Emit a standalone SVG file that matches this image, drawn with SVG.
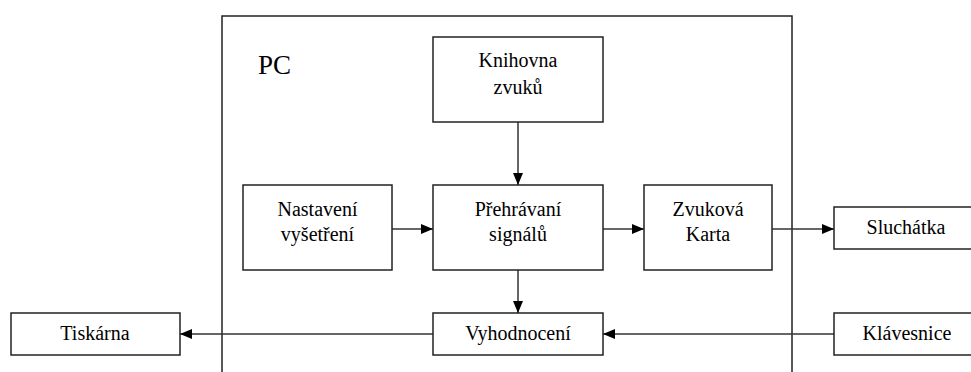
<svg xmlns="http://www.w3.org/2000/svg" width="971" height="372" viewBox="0 0 971 372">
<defs>
<marker id="ah" markerUnits="userSpaceOnUse" markerWidth="12" markerHeight="12" viewBox="0 0 12 12" refX="12" refY="6" orient="auto">
<path d="M0,1 L12,6 L0,11 Z" fill="#000"/>
</marker>
</defs>
<style>
.box{fill:#fff;stroke:#222;stroke-width:1.5}
.frame{fill:none;stroke:#222;stroke-width:1.5}
text{font-family:'Liberation Serif','DejaVu Serif',serif;fill:#000}
.t{font-size:20px;text-anchor:middle}
.c{fill:none;stroke:#333;stroke-width:1.5;marker-end:url(#ah)}
</style>
<rect width="971" height="372" fill="#fff"/>
<g id="pc">
<rect class="frame" x="222" y="16" width="570" height="370"/>
<text x="258" y="74" font-size="27">PC</text>
</g>
<g id="connectors">
<line class="c" x1="518" y1="122" x2="518" y2="185"/>
<line class="c" x1="392" y1="229" x2="433" y2="229"/>
<line class="c" x1="603" y1="229" x2="644" y2="229"/>
<line class="c" x1="772" y1="229" x2="834" y2="229"/>
<line class="c" x1="518" y1="270" x2="518" y2="313"/>
<line class="c" x1="834" y1="334" x2="603" y2="334"/>
<line class="c" x1="433" y1="334" x2="180" y2="334"/>
</g>
<g id="knihovna">
<rect class="box" x="433" y="37" width="170" height="85"/>
<text class="t" x="518" y="67">Knihovna</text>
<text class="t" x="518" y="94">zvuků</text>
</g>
<g id="nastaveni">
<rect class="box" x="243" y="185" width="149" height="85"/>
<text class="t" x="317.5" y="216">Nastavení</text>
<text class="t" x="317.5" y="241">vyšetření</text>
</g>
<g id="prehravani">
<rect class="box" x="433" y="185" width="170" height="85"/>
<text class="t" x="518" y="216">Přehrávaní</text>
<text class="t" x="518" y="241">signálů</text>
</g>
<g id="zvukova">
<rect class="box" x="644" y="185" width="128" height="85"/>
<text class="t" x="708" y="216">Zvuková</text>
<text class="t" x="708" y="241">Karta</text>
</g>
<g id="sluchatka">
<rect class="box" x="834" y="207" width="150" height="42"/>
<text class="t" x="906" y="234">Sluchátka</text>
</g>
<g id="vyhodnoceni">
<rect class="box" x="433" y="313" width="170" height="42"/>
<text class="t" x="518" y="340">Vyhodnocení</text>
</g>
<g id="klavesnice">
<rect class="box" x="834" y="313" width="150" height="42"/>
<text class="t" x="907" y="340">Klávesnice</text>
</g>
<g id="tiskarna">
<rect class="box" x="11" y="313" width="169" height="42"/>
<text class="t" x="95" y="340">Tiskárna</text>
</g>
</svg>
